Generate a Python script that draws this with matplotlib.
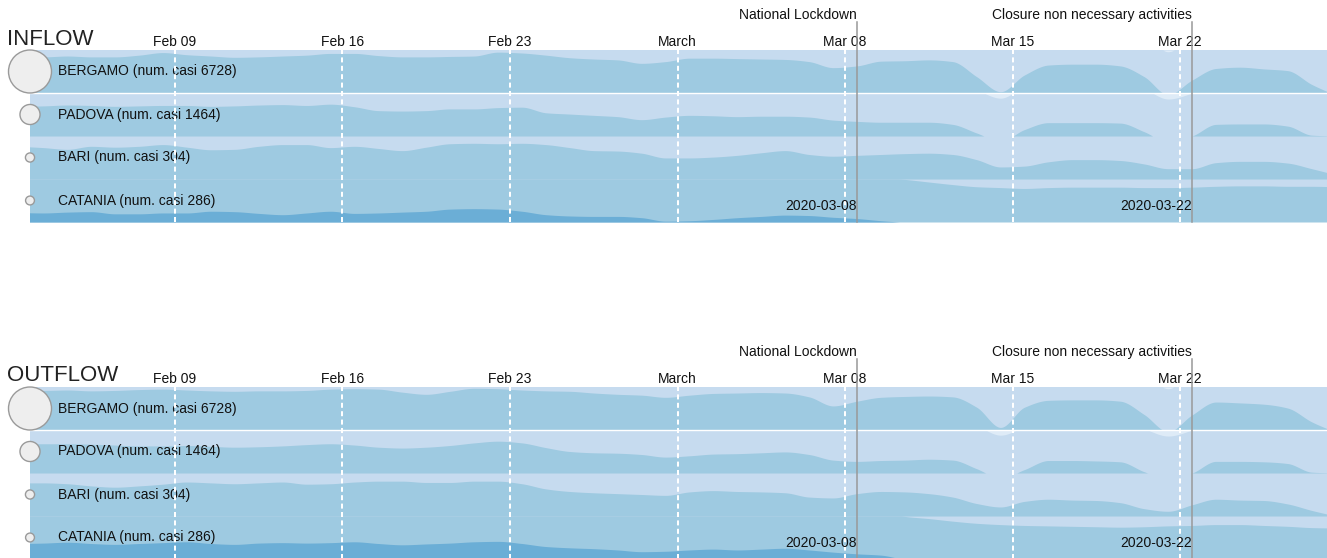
import matplotlib
matplotlib.use('Agg')

import matplotlib.pyplot as plt
import matplotlib.dates as mdates
import matplotlib.transforms as mtransforms
import numpy as np
import pandas as pd

W, H = 1327, 558
plt.rcParams['font.family'] = ['Liberation Sans', 'DejaVu Sans']

# daily points (stamped at midday), Feb 02 .. Mar 28 2020
dates = pd.date_range('2020-02-02 12:00', '2020-03-28 12:00', freq='D')

cities = ['BERGAMO', 'PADOVA', 'BARI', 'CATANIA']
cases = [6728, 1464, 304, 286]

event_dates = ['2020-03-08', '2020-03-22']
event_labels = ['National Lockdown', 'Closure non necessary activities']

# values in horizon-band units (1.0 = one full band, negatives are mirrored)
bergamo_in = [0.86, 0.84, 0.86, 0.84, 0.84, 0.88, 0.94, 0.89, 0.86, 0.83, 0.84, 0.86, 0.88, 0.92,
              0.92, 0.87, 0.84, 0.84, 0.85, 0.86, 0.95, 0.93, 0.88, 0.82, 0.79, 0.77, 0.69, 0.73,
              0.81, 0.81, 0.80, 0.79, 0.78, 0.73, 0.59, 0.63, 0.74, 0.75, 0.77, 0.73, 0.38, 0.03,
              0.42, 0.65, 0.67, 0.67, 0.63, 0.38, -0.04, 0.30, 0.57, 0.60, 0.56, 0.52, 0.20, -0.05]
padova_in = [0.69, 0.70, 0.72, 0.71, 0.69, 0.70, 0.71, 0.71, 0.69, 0.70, 0.72, 0.73, 0.71, 0.74,
             0.68, 0.59, 0.58, 0.59, 0.63, 0.63, 0.66, 0.67, 0.54, 0.51, 0.48, 0.45, 0.38, 0.44,
             0.48, 0.47, 0.45, 0.46, 0.46, 0.44, 0.37, 0.34, 0.32, 0.32, 0.32, 0.27, 0.07, -0.12,
             0.15, 0.31, 0.31, 0.31, 0.30, 0.10, -0.14, 0.00, 0.27, 0.28, 0.28, 0.23, 0.02, 0.00]
bari_in = [0.76, 0.73, 0.69, 0.76, 0.74, 0.76, 0.80, 0.74, 0.68, 0.69, 0.76, 0.80, 0.80, 0.73,
           0.76, 0.71, 0.66, 0.74, 0.82, 0.83, 0.82, 0.83, 0.80, 0.73, 0.66, 0.65, 0.60, 0.49,
           0.49, 0.51, 0.55, 0.61, 0.66, 0.57, 0.53, 0.55, 0.57, 0.59, 0.60, 0.57, 0.45, 0.28,
           0.30, 0.40, 0.45, 0.45, 0.43, 0.35, 0.24, 0.24, 0.38, 0.41, 0.41, 0.37, 0.24, 0.10]
catania_in = [1.22, 1.21, 1.23, 1.24, 1.19, 1.19, 1.21, 1.21, 1.25, 1.24, 1.20, 1.17, 1.21, 1.25,
              1.20, 1.21, 1.23, 1.25, 1.30, 1.31, 1.30, 1.25, 1.17, 1.14, 1.13, 1.13, 1.10, 1.02,
              1.03, 1.06, 1.10, 1.13, 1.16, 1.15, 1.11, 1.08, 1.03, 0.99, 0.93, 0.87, 0.82, 0.80,
              0.78, 0.80, 0.81, 0.81, 0.81, 0.80, 0.80, 0.81, 0.83, 0.84, 0.84, 0.83, 0.83, 0.82]

bergamo_out = [0.92, 0.92, 0.93, 0.91, 0.92, 0.94, 0.95, 0.93, 0.91, 0.90, 0.91, 0.91, 0.92, 0.95,
               0.96, 0.95, 0.88, 0.83, 0.90, 0.97, 0.96, 0.93, 0.91, 0.90, 0.86, 0.83, 0.81, 0.76,
               0.81, 0.85, 0.86, 0.87, 0.86, 0.77, 0.56, 0.67, 0.76, 0.78, 0.79, 0.77, 0.53, 0.06,
               0.53, 0.69, 0.70, 0.70, 0.67, 0.36, -0.04, 0.35, 0.65, 0.63, 0.60, 0.51, 0.19, -0.05]
padova_out = [0.68, 0.68, 0.68, 0.67, 0.65, 0.63, 0.63, 0.64, 0.62, 0.60, 0.61, 0.63, 0.66, 0.68,
              0.65, 0.60, 0.58, 0.60, 0.64, 0.70, 0.74, 0.70, 0.59, 0.50, 0.47, 0.46, 0.43, 0.37,
              0.40, 0.44, 0.45, 0.47, 0.49, 0.43, 0.30, 0.27, 0.29, 0.30, 0.32, 0.30, 0.10, -0.12,
              0.08, 0.29, 0.29, 0.28, 0.26, 0.03, -0.14, 0.00, 0.27, 0.27, 0.26, 0.22, 0.02, 0.00]
bari_out = [0.77, 0.77, 0.75, 0.70, 0.67, 0.70, 0.74, 0.79, 0.77, 0.75, 0.77, 0.79, 0.74, 0.75,
            0.79, 0.81, 0.81, 0.78, 0.78, 0.81, 0.81, 0.75, 0.63, 0.57, 0.54, 0.52, 0.50, 0.48,
            0.56, 0.59, 0.57, 0.56, 0.54, 0.44, 0.42, 0.52, 0.57, 0.56, 0.52, 0.44, 0.29, 0.21,
            0.34, 0.39, 0.37, 0.36, 0.31, 0.17, 0.11, 0.26, 0.39, 0.37, 0.36, 0.28, 0.13, 0.00]
catania_out = [1.36, 1.37, 1.39, 1.36, 1.34, 1.36, 1.38, 1.40, 1.36, 1.34, 1.37, 1.38, 1.37, 1.38,
               1.40, 1.36, 1.33, 1.35, 1.37, 1.40, 1.41, 1.36, 1.29, 1.26, 1.24, 1.21, 1.17, 1.18,
               1.21, 1.23, 1.21, 1.23, 1.25, 1.21, 1.16, 1.12, 1.09, 0.99, 0.94, 0.88, 0.83, 0.80,
               0.78, 0.77, 0.76, 0.75, 0.74, 0.75, 0.77, 0.78, 0.80, 0.80, 0.78, 0.76, 0.73, 0.72]

panels = [
    ('INFLOW', [bergamo_in, padova_in, bari_in, catania_in]),
    ('OUTFLOW', [bergamo_out, padova_out, bari_out, catania_out]),
]

colors = {
    'bg': '#c6dbef',
    'band1': '#9ecae1',
    'band2': '#6baed6',
    'neg': '#deebf7',
    'event': '#999999',
    'text': '#111111',
}


def pchip(x, y, xs):
    """Monotone cubic curve through the points (like d3.curveMonotoneX)."""
    x = np.asarray(x, float)
    y = np.asarray(y, float)
    h = np.diff(x)
    d = np.diff(y) / h
    m = np.zeros_like(y)
    m[0], m[-1] = d[0], d[-1]
    for k in range(1, len(y) - 1):
        if d[k - 1] * d[k] > 0:
            w1 = 2 * h[k] + h[k - 1]
            w2 = h[k] + 2 * h[k - 1]
            m[k] = (w1 + w2) / (w1 / d[k - 1] + w2 / d[k])
    idx = np.clip(np.searchsorted(x, xs) - 1, 0, len(x) - 2)
    t = (xs - x[idx]) / h[idx]
    h00 = 2 * t**3 - 3 * t**2 + 1
    h10 = t**3 - 2 * t**2 + t
    h01 = -2 * t**3 + 3 * t**2
    h11 = t**3 - t**2
    return h00 * y[idx] + h10 * h[idx] * m[idx] + h01 * y[idx + 1] + h11 * h[idx] * m[idx + 1]


fig = plt.figure(figsize=(W / 100, H / 100), dpi=100)

xnum = mdates.date2num(dates)
xs = np.linspace(xnum[0], xnum[-1], 2000)
x0 = mdates.date2num(pd.Timestamp('2020-02-03')) - 0.0585
x1 = x0 + 1297 / 23.93

# pixel layout of each panel: (title baseline, rows top, rows bottom)
layout = [(45, 50, 222), (380.7, 387, 559)]

for (title, series), (title_y, top, bottom) in zip(panels, layout):
    ax = fig.add_axes([30 / W, 1 - bottom / H, 1297 / W, (bottom - top) / H])
    ax.set_xlim(x0, x1)
    ax.set_ylim(4, 0)
    ax.set_facecolor('none')
    for sp in ax.spines.values():
        sp.set_visible(False)
    ax.set_yticks([])

    ax.xaxis.set_major_locator(mdates.WeekdayLocator(byweekday=mdates.SU))
    ax.xaxis.set_major_formatter(plt.FuncFormatter(
        lambda v, p: mdates.num2date(v).strftime('%B' if mdates.num2date(v).day == 1 else '%b %d')))
    ax.tick_params(axis='x', bottom=False, top=False, labelbottom=False, labeltop=True,
                   length=0, pad=0.5, labelsize=10, labelcolor=colors['text'])

    for i, vals in enumerate(series):
        v = pchip(xnum, vals, xs)
        base = i + 1
        ax.axhspan(i, i + 1, color=colors['bg'], lw=0, zorder=1)
        ax.fill_between(xs, base, base - np.clip(v, 0, 1), color=colors['band1'], lw=0, zorder=2)
        ax.fill_between(xs, base, base - np.clip(v - 1, 0, 1), color=colors['band2'], lw=0, zorder=2)
        ax.fill_between(xs, i, i + np.clip(-v, 0, 1), color=colors['neg'], lw=0, zorder=2.2)

    ax.axhline(1, color='white', lw=1.0, zorder=3)

    # bubbles sized by number of cases
    radius = 21.5 * np.sqrt(np.array(cases) / cases[0])
    ax.scatter([x0] * len(cities), np.arange(len(cities)) + 0.5, s=(1.44 * radius) ** 2,
               facecolor='#eeeeee', edgecolor='#9a9a9a', linewidths=1.0, zorder=4, clip_on=False)

    lab_tr = mtransforms.blended_transform_factory(ax.transAxes, ax.transData)
    for i, (c, n) in enumerate(zip(cities, cases)):
        ax.text(28 / 1297, i + 0.5, f'{c} (num. casi {n})', transform=lab_tr,
                va='center', ha='left', fontsize=10, color=colors['text'], zorder=5)

    for t in ax.get_xticks():
        ax.axvline(t, color='white', lw=1.44, dashes=(2.5, 1.7), zorder=6)

    ev_tr = mtransforms.blended_transform_factory(ax.transData, ax.transAxes)
    for d, lab in zip(event_dates, event_labels):
        ev = mdates.date2num(pd.Timestamp(d) + pd.Timedelta(hours=12))
        ax.axvline(ev, ymin=0, ymax=1.163, color=colors['event'], lw=1.1, zorder=7, clip_on=False)
        ax.text(ev, 1.178, lab, transform=ev_tr, ha='right', va='baseline',
                fontsize=10, color=colors['text'])
        ax.text(ev, 0.07, d, transform=ev_tr, ha='right', va='baseline',
                fontsize=10, color=colors['text'], zorder=8)

    fig.text(7.3 / W, 1 - title_y / H, title, fontsize=16, color='#222222', va='baseline')

fig.savefig('out.png', dpi=100)
plt.close(fig)
